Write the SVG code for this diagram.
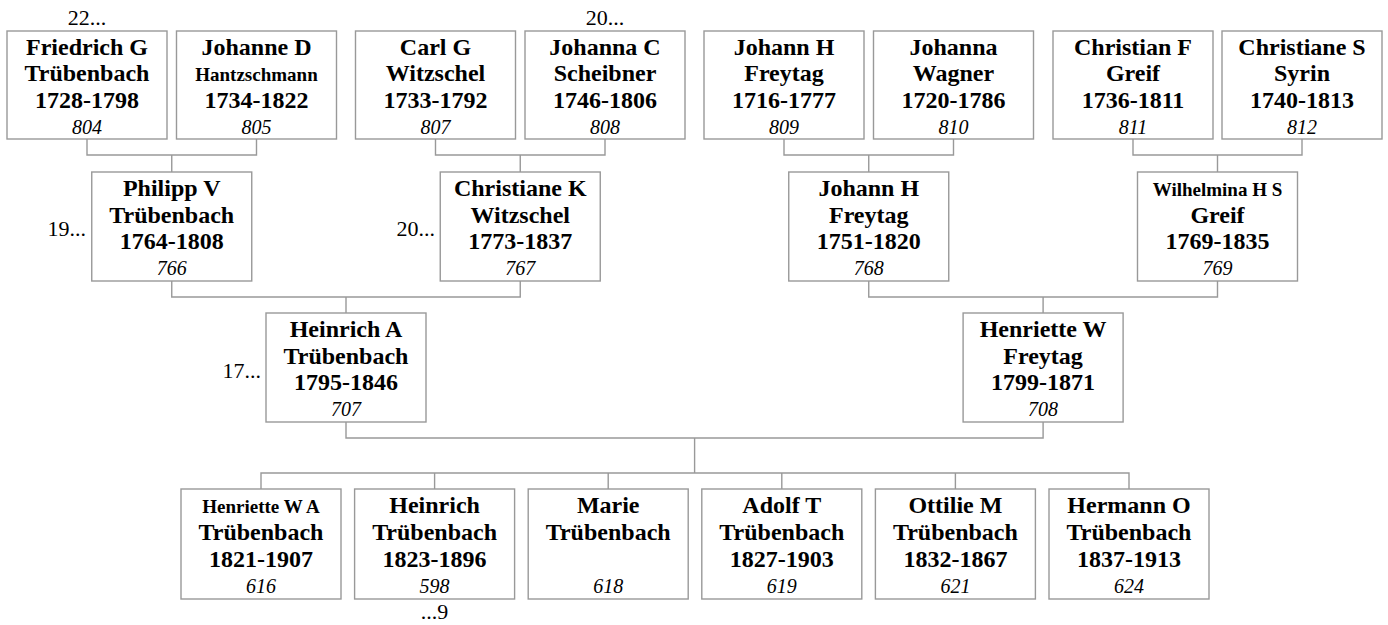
<svg xmlns="http://www.w3.org/2000/svg" width="1388" height="625" viewBox="0 0 1388 625">
<style>
.box{fill:#fff;stroke:#999;stroke-width:1.4}
.ln{fill:none;stroke:#999;stroke-width:1.4}
.nm{font-family:"Liberation Serif","Times New Roman",serif;font-weight:bold;font-size:24px;text-anchor:middle;fill:#000}
.sm{font-size:19px}
.id{font-family:"Liberation Serif","Times New Roman",serif;font-style:italic;font-size:20px;text-anchor:middle;fill:#000}
.lb{font-family:"Liberation Serif","Times New Roman",serif;font-size:22px;fill:#000}
</style>
<rect width="1388" height="625" fill="#fff"/>
<g id="connectors">
<path class="ln" d="M87,139V155H256.5V139M171.75,155V172"/>
<path class="ln" d="M435.5,139V155H605V139M520.25,155V172"/>
<path class="ln" d="M784,139V155H953.5V139M868.75,155V172"/>
<path class="ln" d="M1133,139V155H1302V139M1217.5,155V172"/>
<path class="ln" d="M171.75,281V297H520.25V281M346,297V313"/>
<path class="ln" d="M868.75,281V297H1217.5V281M1043.1,297V313"/>
<path class="ln" d="M346,422V438H1043.1V422M694.6,438V473"/>
<path class="ln" d="M261,489V473H1129V489M434.6,473V489M608.2,473V489M781.8,473V489M955.4,473V489"/>
</g>
<g id="n804"><rect class="box" x="7" y="31" width="160" height="108"/><text class="nm" x="87" y="55">Friedrich G</text><text class="nm" x="87" y="81">Trübenbach</text><text class="nm" x="87" y="108">1728-1798</text><text class="id" x="87" y="134">804</text></g>
<g id="n805"><rect class="box" x="176.5" y="31" width="160" height="108"/><text class="nm" x="256.5" y="55">Johanne D</text><text class="nm sm" x="256.5" y="81">Hantzschmann</text><text class="nm" x="256.5" y="108">1734-1822</text><text class="id" x="256.5" y="134">805</text></g>
<g id="n807"><rect class="box" x="355.5" y="31" width="160" height="108"/><text class="nm" x="435.5" y="55">Carl G</text><text class="nm" x="435.5" y="81">Witzschel</text><text class="nm" x="435.5" y="108">1733-1792</text><text class="id" x="435.5" y="134">807</text></g>
<g id="n808"><rect class="box" x="525" y="31" width="160" height="108"/><text class="nm" x="605" y="55">Johanna C</text><text class="nm" x="605" y="81">Scheibner</text><text class="nm" x="605" y="108">1746-1806</text><text class="id" x="605" y="134">808</text></g>
<g id="n809"><rect class="box" x="704" y="31" width="160" height="108"/><text class="nm" x="784" y="55">Johann H</text><text class="nm" x="784" y="81">Freytag</text><text class="nm" x="784" y="108">1716-1777</text><text class="id" x="784" y="134">809</text></g>
<g id="n810"><rect class="box" x="873.5" y="31" width="160" height="108"/><text class="nm" x="953.5" y="55">Johanna</text><text class="nm" x="953.5" y="81">Wagner</text><text class="nm" x="953.5" y="108">1720-1786</text><text class="id" x="953.5" y="134">810</text></g>
<g id="n811"><rect class="box" x="1053" y="31" width="160" height="108"/><text class="nm" x="1133" y="55">Christian F</text><text class="nm" x="1133" y="81">Greif</text><text class="nm" x="1133" y="108">1736-1811</text><text class="id" x="1133" y="134">811</text></g>
<g id="n812"><rect class="box" x="1222" y="31" width="160" height="108"/><text class="nm" x="1302" y="55">Christiane S</text><text class="nm" x="1302" y="81">Syrin</text><text class="nm" x="1302" y="108">1740-1813</text><text class="id" x="1302" y="134">812</text></g>
<g id="n766"><rect class="box" x="91.75" y="172" width="160" height="109"/><text class="nm" x="171.75" y="196">Philipp V</text><text class="nm" x="171.75" y="223">Trübenbach</text><text class="nm" x="171.75" y="249">1764-1808</text><text class="id" x="171.75" y="275">766</text></g>
<g id="n767"><rect class="box" x="440.25" y="172" width="160" height="109"/><text class="nm" x="520.25" y="196">Christiane K</text><text class="nm" x="520.25" y="223">Witzschel</text><text class="nm" x="520.25" y="249">1773-1837</text><text class="id" x="520.25" y="275">767</text></g>
<g id="n768"><rect class="box" x="788.75" y="172" width="160" height="109"/><text class="nm" x="868.75" y="196">Johann H</text><text class="nm" x="868.75" y="223">Freytag</text><text class="nm" x="868.75" y="249">1751-1820</text><text class="id" x="868.75" y="275">768</text></g>
<g id="n769"><rect class="box" x="1137.5" y="172" width="160" height="109"/><text class="nm sm" x="1217.5" y="196">Wilhelmina H S</text><text class="nm" x="1217.5" y="223">Greif</text><text class="nm" x="1217.5" y="249">1769-1835</text><text class="id" x="1217.5" y="275">769</text></g>
<g id="n707"><rect class="box" x="266" y="313" width="160" height="109"/><text class="nm" x="346" y="337">Heinrich A</text><text class="nm" x="346" y="364">Trübenbach</text><text class="nm" x="346" y="390">1795-1846</text><text class="id" x="346" y="416">707</text></g>
<g id="n708"><rect class="box" x="963.1" y="313" width="160" height="109"/><text class="nm" x="1043.1" y="337">Henriette W</text><text class="nm" x="1043.1" y="364">Freytag</text><text class="nm" x="1043.1" y="390">1799-1871</text><text class="id" x="1043.1" y="416">708</text></g>
<g id="n616"><rect class="box" x="181" y="489" width="160" height="110"/><text class="nm sm" x="261" y="513">Henriette W A</text><text class="nm" x="261" y="540">Trübenbach</text><text class="nm" x="261" y="567">1821-1907</text><text class="id" x="261" y="593">616</text></g>
<g id="n598"><rect class="box" x="354.6" y="489" width="160" height="110"/><text class="nm" x="434.6" y="513">Heinrich</text><text class="nm" x="434.6" y="540">Trübenbach</text><text class="nm" x="434.6" y="567">1823-1896</text><text class="id" x="434.6" y="593">598</text></g>
<g id="n618"><rect class="box" x="528.2" y="489" width="160" height="110"/><text class="nm" x="608.2" y="513">Marie</text><text class="nm" x="608.2" y="540">Trübenbach</text><text class="id" x="608.2" y="593">618</text></g>
<g id="n619"><rect class="box" x="701.8" y="489" width="160" height="110"/><text class="nm" x="781.8" y="513">Adolf T</text><text class="nm" x="781.8" y="540">Trübenbach</text><text class="nm" x="781.8" y="567">1827-1903</text><text class="id" x="781.8" y="593">619</text></g>
<g id="n621"><rect class="box" x="875.4" y="489" width="160" height="110"/><text class="nm" x="955.4" y="513">Ottilie M</text><text class="nm" x="955.4" y="540">Trübenbach</text><text class="nm" x="955.4" y="567">1832-1867</text><text class="id" x="955.4" y="593">621</text></g>
<g id="n624"><rect class="box" x="1049" y="489" width="160" height="110"/><text class="nm" x="1129" y="513">Hermann O</text><text class="nm" x="1129" y="540">Trübenbach</text><text class="nm" x="1129" y="567">1837-1913</text><text class="id" x="1129" y="593">624</text></g>
<g id="labels">
<text class="lb" x="87" y="25" text-anchor="middle">22...</text>
<text class="lb" x="605" y="25" text-anchor="middle">20...</text>
<text class="lb" x="86" y="236" text-anchor="end">19...</text>
<text class="lb" x="435" y="236" text-anchor="end">20...</text>
<text class="lb" x="261" y="378" text-anchor="end">17...</text>
<text class="lb" x="434.6" y="619" text-anchor="middle">...9</text>
</g>
</svg>
